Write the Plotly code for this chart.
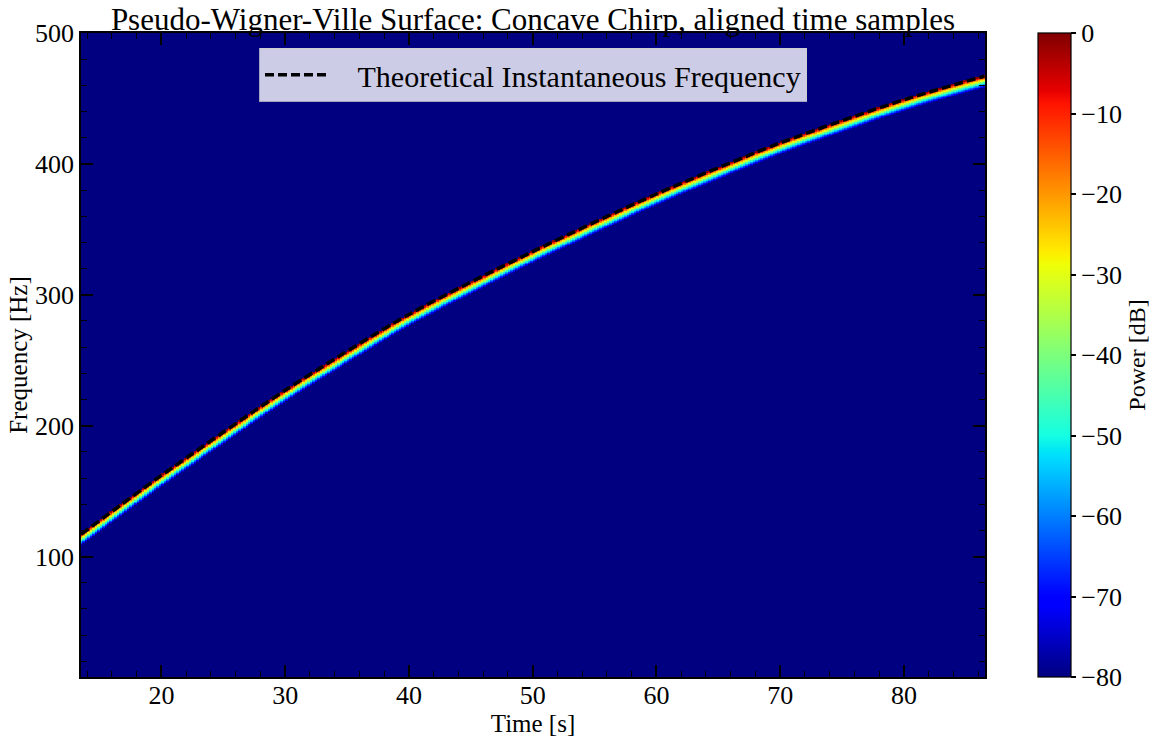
import numpy as np
import plotly.graph_objects as go

# ---- data ----
t_if = [13.5, 16.8, 20, 30, 40, 50, 60, 70, 80, 86.5]          # time [s]
f_if = [117, 140, 162, 227, 285, 333, 377, 416, 449, 467]       # instantaneous freq [Hz]
t_range = [13.5, 86.55]
f_range = [8, 500]
z_min, z_max = -80, 0
cb_ticks = [0, -10, -20, -30, -40, -50, -60, -70, -80]

# ---- derived Wigner-Ville like surface: ridge follows the read IF (lightly smoothed) ----
t_grid = np.arange(t_range[0], t_range[1] + 0.2, 0.2)
f_grid = np.arange(f_range[0], f_range[1] + 0.5, 0.5)
lin = np.interp(t_grid, t_if, f_if)
k = 25
pad = np.pad(lin, k // 2, mode="reflect", reflect_type="odd")
ridge = np.convolve(pad, np.ones(k) / k, mode="valid")
d = f_grid[:, None] - (ridge[None, :] + 0.5)
Z = np.where(d > 0.6, float(z_min), 80.0 * np.minimum(d, 0) / 9.0)
Z = np.clip(Z, z_min, z_max).astype(np.float32)

# matplotlib 'jet' colormap stops
def jet(v):
    r = np.interp(v, [0, 0.35, 0.66, 0.89, 1], [0, 0, 1, 1, 0.5])
    g = np.interp(v, [0, 0.125, 0.375, 0.64, 0.91, 1], [0, 0, 1, 1, 0, 0])
    b = np.interp(v, [0, 0.11, 0.34, 0.65, 1], [0.5, 1, 1, 0, 0])
    return "rgb(%d,%d,%d)" % (round(r * 255), round(g * 255), round(b * 255))

stops = sorted(set([0, 0.11, 0.125, 0.34, 0.35, 0.375, 0.64, 0.65, 0.66, 0.89, 0.91, 1]))
jet_scale = [[s, jet(s)] for s in stops]

FONT = "Liberation Serif, Times New Roman, serif"
TICK = 26
LAB = 25

fig = go.Figure()
fig.add_trace(go.Heatmap(
    x=t_grid, y=f_grid, z=Z, zmin=z_min, zmax=z_max,
    colorscale=jet_scale, hoverinfo="skip", showlegend=False,
    colorbar=dict(
        x=1.0588, xanchor="left", xpad=0, y=0.5, yanchor="middle",
        len=1, lenmode="fraction", ypad=0,
        thickness=33, thicknessmode="pixels",
        outlinecolor="black", outlinewidth=1.2,
        tickmode="array", tickvals=cb_ticks,
        ticks="outside", ticklen=5, tickwidth=1.5, tickcolor="black",
        tickfont=dict(family=FONT, size=TICK, color="black"),
        title=dict(text="Power [dB]", side="right",
                   font=dict(family=FONT, size=24, color="black")),
    ),
))
fig.add_trace(go.Scatter(
    x=t_if, y=f_if, mode="lines",
    line=dict(color="black", width=3.5, dash="9px,4px", shape="spline", smoothing=0.8),
    name="\u00a0\u00a0\u00a0Theoretical Instantaneous Frequency",
))

axis_common = dict(
    showline=True, linecolor="black", linewidth=1.5, mirror="allticks",
    ticks="inside", ticklen=12, tickwidth=1.5, tickcolor="black",
    showgrid=False, zeroline=False, automargin=False,
    tickfont=dict(family=FONT, size=TICK, color="black"),
)
fig.update_xaxes(
    range=t_range, tick0=0, dtick=10, ticklabelstandoff=-6,
    minor=dict(ticks="inside", dtick=2, ticklen=6, tickwidth=1.2, tickcolor="black", showgrid=False),
    title=dict(text="Time [s]", font=dict(family=FONT, size=LAB, color="black"), standoff=0),
    **axis_common,
)
fig.update_yaxes(
    range=f_range, tick0=0, dtick=100,
    minor=dict(ticks="inside", dtick=20, ticklen=6, tickwidth=1.2, tickcolor="black", showgrid=False),
    title=dict(text="Frequency [Hz]", font=dict(family=FONT, size=LAB, color="black"), standoff=0),
    **axis_common,
)

fig.update_layout(
    width=1151, height=738,
    margin=dict(l=81, r=166, t=33, b=61, autoexpand=False),
    paper_bgcolor="white", plot_bgcolor="rgb(0,0,128)",
    font=dict(family=FONT, size=TICK, color="black"),
    title=dict(
        text="Pseudo-Wigner-Ville Surface: Concave Chirp, aligned time samples",
        x=0.5, xref="paper", xanchor="center",
        y=1, yref="paper", yanchor="bottom", pad=dict(b=3),
        font=dict(family=FONT, size=31, color="black"),
    ),
    legend=dict(
        x=0.5, xanchor="center", y=0.977, yanchor="top",
        bgcolor="rgba(255,255,255,0.8)", bordercolor="rgba(204,204,204,0.8)", borderwidth=1,
        font=dict(family=FONT, size=30, color="black"),
        itemwidth=65,
    ),
    showlegend=True,
)

fig.write_html(
    "out.html",
    config={"displayModeBar": False},
    post_script="document.body.style.margin='0';document.body.style.padding='0';",
)
